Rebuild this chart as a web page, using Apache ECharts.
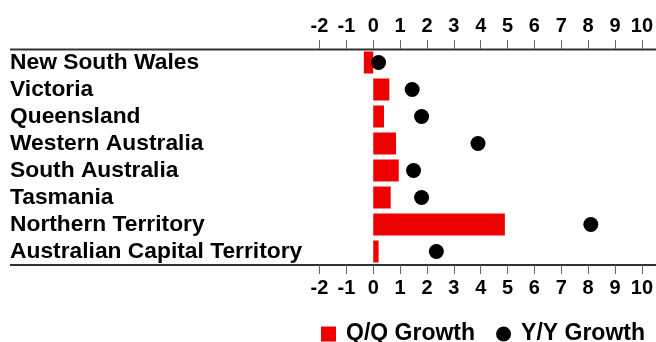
<!DOCTYPE html>
<html>
<head>
<meta charset="utf-8">
<script src="https://cdn.jsdelivr.net/npm/echarts@6/dist/echarts.min.js"></script>
<style>
  html, body { margin: 0; padding: 0; background: #fff; }
  #chart { width: 656px; height: 342px; }
</style>
</head>
<body>
<div id="chart"></div>
<script>
// states / territories, top to bottom
var regions = ['New South Wales', 'Victoria', 'Queensland', 'Western Australia',
  'South Australia', 'Tasmania', 'Northern Territory', 'Australian Capital Territory'];
// quarter on quarter growth (bars)
var qqGrowth = [-0.35, 0.6, 0.4, 0.85, 0.95, 0.65, 4.9, 0.2];
// year on year growth (dots)
var yyGrowth = [0.2, 1.45, 1.8, 3.9, 1.5, 1.8, 8.1, 2.35];
var xMin = -2, xMax = 10;

var FONT = "'Liberation Sans', Arial, sans-serif";

var chart = echarts.init(document.getElementById('chart'), null, { renderer: 'canvas' });

// shared x axis look (top + bottom copies)
function valueAxis(pos) {
  return {
    type: 'value',
    position: pos,
    min: xMin,
    max: xMax,
    interval: 1,
    splitLine: { show: false },
    axisLine: { show: false },
    axisTick: { show: true, length: 9, lineStyle: { color: '#666', width: 1 } },
    axisLabel: {
      margin: 13,
      color: '#000',
      fontFamily: FONT,
      fontWeight: 'bold',
      fontSize: 20
    }
  };
}

var option = {
  animation: false,
  backgroundColor: '#fff',
  grid: { left: 319.5, right: 12.5, top: 49, bottom: 77 },
  xAxis: [valueAxis('top'), valueAxis('bottom')],
  yAxis: {
    type: 'category',
    data: regions,
    inverse: true,
    axisLine: { show: false },
    axisTick: { show: false },
    axisLabel: {
      interval: 0,
      align: 'left',
      margin: 309.5,
      padding: [4, 0, 0, 0],
      color: '#000',
      fontFamily: FONT,
      fontWeight: 'bold',
      fontSize: 22.8
    }
  },
  legend: {
    left: 321,
    top: 322.5,
    padding: 0,
    itemWidth: 15,
    itemHeight: 15,
    itemGap: 21,
    textStyle: {
      color: '#000',
      fontFamily: FONT,
      fontWeight: 'bold',
      fontSize: 23,
      padding: [0, 0, 0, 5]
    },
    data: [
      { name: 'Q/Q Growth', icon: 'rect' },
      { name: 'Y/Y Growth', icon: 'circle' }
    ]
  },
  // axis rules run the full width, past the plot area
  graphic: [
    { type: 'line', shape: { x1: 10, y1: 49.5, x2: 656, y2: 49.5 }, style: { stroke: '#333', lineWidth: 2 } },
    { type: 'line', shape: { x1: 10, y1: 265, x2: 656, y2: 265 }, style: { stroke: '#333', lineWidth: 2 } }
  ],
  series: [
    {
      name: 'Q/Q Growth',
      type: 'bar',
      xAxisIndex: 0,
      data: qqGrowth,
      barWidth: 22,
      itemStyle: { color: '#ee0000' }
    },
    {
      name: 'Y/Y Growth',
      type: 'scatter',
      xAxisIndex: 0,
      data: yyGrowth,
      symbolSize: 15,
      itemStyle: { color: '#000', opacity: 1 }
    }
  ]
};

chart.setOption(option);
</script>
</body>
</html>
